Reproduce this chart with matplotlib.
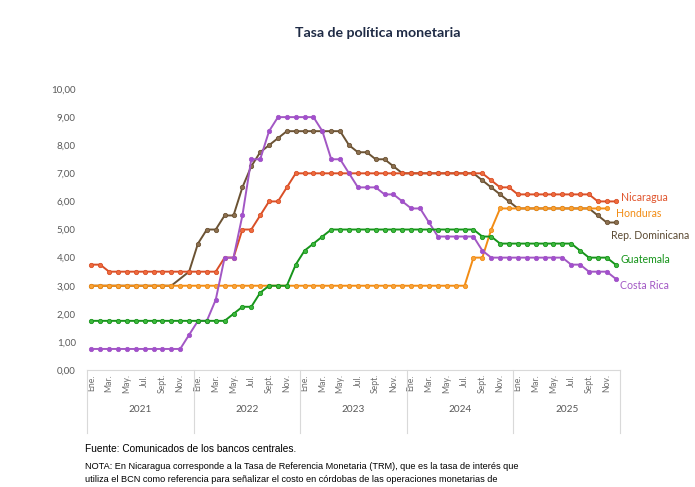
import numpy as np
import matplotlib
matplotlib.use("Agg")
import matplotlib.pyplot as plt
import matplotlib.transforms as mtransforms

# monthly policy rates, Jan 2021 .. Dec 2025
years = ["2021", "2022", "2023", "2024", "2025"]
month_labels = ["Ene.", "Mar.", "May.", "Jul.", "Sept.", "Nov."]

nicaragua = [3.75, 3.75, 3.5, 3.5, 3.5, 3.5, 3.5, 3.5, 3.5, 3.5, 3.5, 3.5,
             3.5, 3.5, 3.5, 4.0, 4.0, 5.0, 5.0, 5.5, 6.0, 6.0, 6.5, 7.0,
             7.0, 7.0, 7.0, 7.0, 7.0, 7.0, 7.0, 7.0, 7.0, 7.0, 7.0, 7.0,
             7.0, 7.0, 7.0, 7.0, 7.0, 7.0, 7.0, 7.0, 7.0, 6.75, 6.5, 6.5,
             6.25, 6.25, 6.25, 6.25, 6.25, 6.25, 6.25, 6.25, 6.25, 6.0, 6.0, 6.0]

honduras = [3.0, 3.0, 3.0, 3.0, 3.0, 3.0, 3.0, 3.0, 3.0, 3.0, 3.0, 3.0,
            3.0, 3.0, 3.0, 3.0, 3.0, 3.0, 3.0, 3.0, 3.0, 3.0, 3.0, 3.0,
            3.0, 3.0, 3.0, 3.0, 3.0, 3.0, 3.0, 3.0, 3.0, 3.0, 3.0, 3.0,
            3.0, 3.0, 3.0, 3.0, 3.0, 3.0, 3.0, 4.0, 4.0, 5.0, 5.75, 5.75,
            5.75, 5.75, 5.75, 5.75, 5.75, 5.75, 5.75, 5.75, 5.75, 5.75, 5.75, None]

rep_dominicana = [3.0, 3.0, 3.0, 3.0, 3.0, 3.0, 3.0, 3.0, 3.0, 3.0, None, 3.5,
                  4.5, 5.0, 5.0, 5.5, 5.5, 6.5, 7.25, 7.75, 8.0, 8.25, 8.5, 8.5,
                  8.5, 8.5, 8.5, 8.5, 8.5, 8.0, 7.75, 7.75, 7.5, 7.5, 7.25, 7.0,
                  7.0, 7.0, 7.0, 7.0, 7.0, 7.0, 7.0, 7.0, 6.75, 6.5, 6.25, 6.0,
                  5.75, 5.75, 5.75, 5.75, 5.75, 5.75, 5.75, 5.75, 5.75, 5.5, 5.25, 5.25]

guatemala = [1.75, 1.75, 1.75, 1.75, 1.75, 1.75, 1.75, 1.75, 1.75, 1.75, 1.75, 1.75,
             1.75, 1.75, 1.75, 1.75, 2.0, 2.25, 2.25, 2.75, 3.0, 3.0, 3.0, 3.75,
             4.25, 4.5, 4.75, 5.0, 5.0, 5.0, 5.0, 5.0, 5.0, 5.0, 5.0, 5.0,
             5.0, 5.0, 5.0, 5.0, 5.0, 5.0, 5.0, 5.0, 4.75, 4.75, 4.5, 4.5,
             4.5, 4.5, 4.5, 4.5, 4.5, 4.5, 4.5, 4.25, 4.0, 4.0, 4.0, 3.75]

costa_rica = [0.75, 0.75, 0.75, 0.75, 0.75, 0.75, 0.75, 0.75, 0.75, 0.75, 0.75, 1.25,
              1.75, 1.75, 2.5, 4.0, 4.0, 5.5, 7.5, 7.5, 8.5, 9.0, 9.0, 9.0,
              9.0, 9.0, 8.5, 7.5, 7.5, 7.0, 6.5, 6.5, 6.5, 6.25, 6.25, 6.0,
              5.75, 5.75, 5.25, 4.75, 4.75, 4.75, 4.75, 4.75, 4.25, 4.0, 4.0, 4.0,
              4.0, 4.0, 4.0, 4.0, 4.0, 4.0, 3.75, 3.75, 3.5, 3.5, 3.5, 3.25]

x = np.arange(len(nicaragua))

fig = plt.figure(figsize=(6.95, 4.87), dpi=100)
ax = fig.add_axes([0.125, 0.2402, 0.7672, 0.577])

series = [
    # name, values, line color, marker fill, label offset (px), zorder
    ("Rep. Dominicana", rep_dominicana, "#6B5233", "#8C7050", (-5, -13), 2),
    ("Nicaragua", nicaragua, "#D94F27", "#EF6B3D", (5, 4), 3),
    ("Honduras", honduras, "#F28C14", "#F7A33A", (9, -5), 4),
    ("Costa Rica", costa_rica, "#A257C4", "#A24ED0", (4, -7), 5),
    ("Guatemala", guatemala, "#16941A", "#3DB83D", (5, 5), 6),
]
label_colors = {"Rep. Dominicana": "#5B4A33", "Nicaragua": "#E0532B",
                "Honduras": "#F28C14", "Costa Rica": "#A257C4",
                "Guatemala": "#16941A"}

for name, vals, lc, fc, off, z in series:
    y = np.array([np.nan if v is None else v for v in vals], dtype=float)
    ok = ~np.isnan(y)
    ax.plot(x[ok], y[ok], color=lc, lw=1.4, marker="o", ms=3.1,
            mfc=fc, mec=lc, mew=0.6, zorder=z, clip_on=False)
    last = np.where(ok)[0][-1]
    ax.annotate(name, (x[last], y[last]), xytext=off, textcoords="offset pixels",
                ha="left", va="center", fontsize=7.6, color=label_colors[name],
                family="Lato")

ax.set_xlim(-0.5, len(x) - 0.5)
ax.set_ylim(0, 10)
ax.set_yticks(np.arange(0, 11, 1))
ax.set_yticklabels([f"{v:.2f}".replace(".", ",") for v in range(0, 11)],
                   fontsize=7, color="#595959", family="Lato")
ax.tick_params(axis="y", length=0, pad=8)

ticks = x[::2]
ax.set_xticks(ticks)
ax.set_xticklabels(month_labels * len(years), rotation=90, fontsize=6.2,
                   color="#6E6E6E", family="Lato", va="top")
ax.tick_params(axis="x", length=0, pad=3)

for s in ["top", "right", "left"]:
    ax.spines[s].set_visible(False)
ax.spines["bottom"].set_color("#D9D9D9")
ax.spines["bottom"].set_linewidth(0.8)

trans = mtransforms.blended_transform_factory(ax.transData, ax.transAxes)
for i in range(len(years) + 1):
    xb = i * 12 - 0.5
    ax.plot([xb, xb], [0, -0.225], color="#D9D9D9", lw=0.8,
            transform=trans, clip_on=False)
for i, yr in enumerate(years):
    ax.text(i * 12 + 5.5, -0.142, yr, transform=trans, ha="center", va="center",
            fontsize=7.2, color="#595959", family="Lato")

fig.text(0.543, 0.932, "Tasa de política monetaria", ha="center", va="center",
         fontsize=10.2, color="#1F2B45", family="Lato", fontweight="bold")

fig.text(0.122, 0.078, "Fuente: Comunicados de los bancos centrales.",
         ha="left", va="center", fontsize=7.3, color="black",
         family="Liberation Sans")
fig.text(0.122, 0.043,
         "NOTA: En Nicaragua corresponde a la Tasa de Referencia Monetaria (TRM), "
         "que es la tasa de interés que",
         ha="left", va="center", fontsize=6.6, color="black",
         family="Liberation Sans")
fig.text(0.122, 0.015,
         "utiliza el BCN como referencia para señalizar el costo en córdobas "
         "de las operaciones monetarias de",
         ha="left", va="center", fontsize=6.6, color="black",
         family="Liberation Sans")

fig.savefig("out.png", dpi=100)
